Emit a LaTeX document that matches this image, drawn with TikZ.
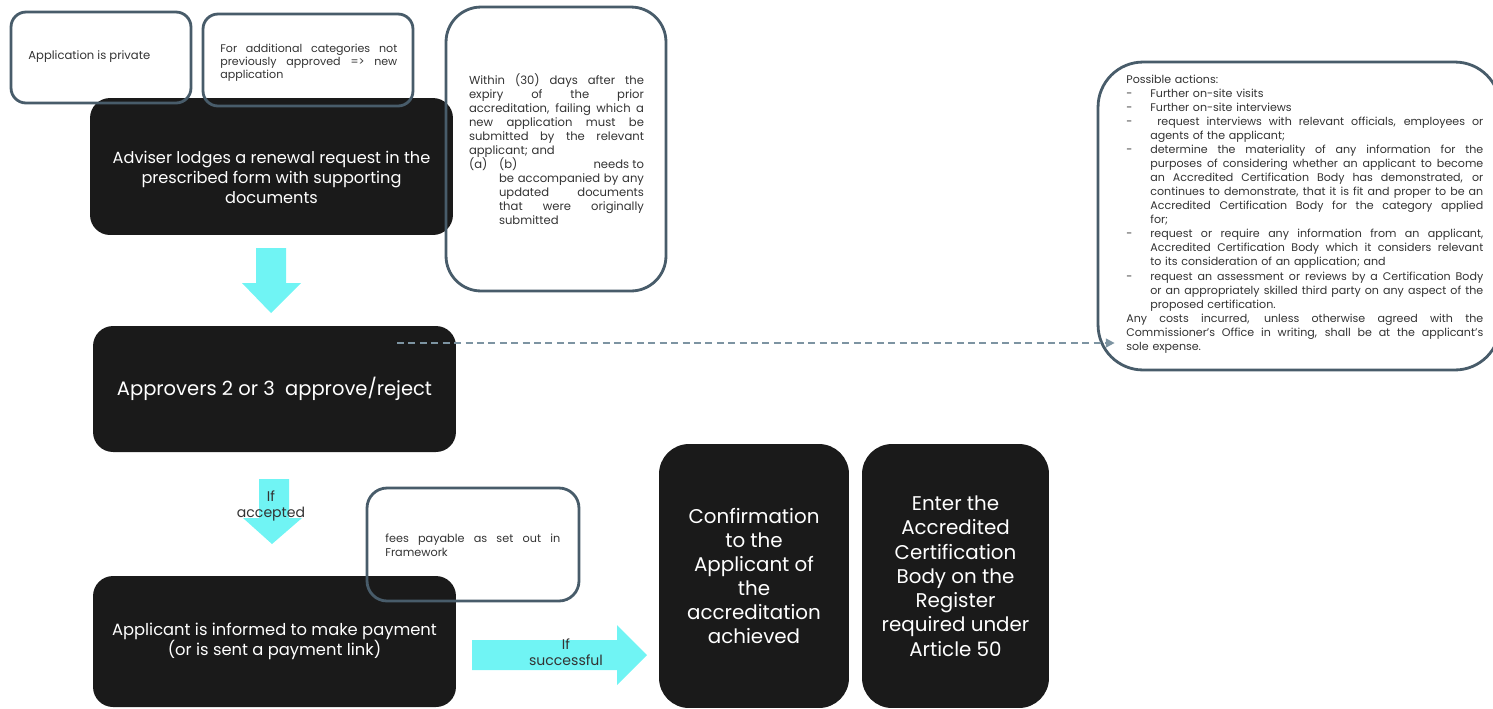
\documentclass[tikz,border=0pt]{standalone}
\definecolor{BoxBlack}{RGB}{26,26,26}
\definecolor{NoteSlate}{RGB}{72,92,106}
\definecolor{FlowCyan}{RGB}{112,244,244}
\definecolor{DashGray}{RGB}{125,148,162}
\definecolor{NoteText}{RGB}{51,51,51}
\usepackage{fontspec}
\setmainfont{Poppins}
\usepackage{tikz}
\usetikzlibrary{positioning, arrows.meta, calc}
\newcommand{\spreadbox}[2]{{\spaceskip=\fontdimen2\font plus 1fil minus 0.3\fontdimen2\font\makebox[#1][s]{#2}}}
\newcommand{\fullline}[1]{\spreadbox{\hsize}{#1}}
\newcommand{\dashitem}{\makebox[0.48cm][l]{-}}

\tikzset{
  darkbox/.style={fill=BoxBlack, rounded corners=0.4cm, inner sep=0pt},
  tallbox/.style={darkbox, rounded corners=0.6cm, minimum height=5.28cm},
  notebox/.style={draw=NoteSlate, line width=1.6pt, inner sep=0pt},
  boxtext/.style={text=white, align=center, inner sep=0pt},
  notetext/.style={text=NoteText, align=left, inner sep=0pt},
  flowarrow/.style={fill=FlowCyan},
  flowlabel/.style={text=NoteText, align=center, inner sep=0pt, font=\fontsize{8pt}{9.2pt}\selectfont},
  linkline/.style={DashGray, line width=1.1pt, dash pattern=on 4pt off 2.5pt, -{Triangle[length=5pt,width=5pt]}},
}

\begin{document}
\begin{tikzpicture}[x=0.02cm, y=-0.02cm]
\useasboundingbox (0,0) rectangle (1493,708);

\node[darkbox, minimum width=7.26cm, minimum height=2.74cm] (adviser) at (271.5,166.5) {};
\node[boxtext, font=\fontsize{9.2pt}{11.6pt}\selectfont] (advisertext) at ([yshift=-0.22cm]adviser.center) {Adviser lodges a renewal request in the\\prescribed form with supporting\\documents};

\node[darkbox, minimum width=7.26cm, minimum height=2.52cm] (approvers) at (274.5,389) {};
\node[boxtext, font=\fontsize{11.1pt}{12pt}\selectfont] (approverstext) at (approvers.center) {Approvers 2 or 3\ \ approve/reject};

\node[darkbox, minimum width=7.26cm, minimum height=2.62cm] (applicant) at (274.5,641.5) {};
\node[boxtext, font=\fontsize{9.3pt}{11.3pt}\selectfont] (applicanttext) at (applicant.center) {Applicant is informed to make payment\\(or is sent a payment link)};

\node[tallbox, minimum width=3.8cm] (confirm) at (754,576) {};
\node[boxtext, font=\fontsize{11.3pt}{13.7pt}\selectfont] (confirmtext) at (confirm.center) {Confirmation\\to the\\Applicant of\\the\\accreditation\\achieved};

\node[tallbox, minimum width=3.74cm] (register) at (955.5,576) {};
\node[boxtext, font=\fontsize{11.3pt}{13.8pt}\selectfont] (registertext) at (register.center) {Enter the\\Accredited\\Certification\\Body on the\\Register\\required under\\Article 50};

\fill[flowarrow] (256,248) -- (286,248) -- (286,283) -- (301,283) -- (271,313) -- (242,283) -- (256,283) -- cycle;
\fill[flowarrow] (259,479) -- (289,479) -- (289,518) -- (302,518) -- (272,544) -- (243,518) -- (259,518) -- cycle;
\fill[flowarrow] (472,640) -- (617,640) -- (617,625) -- (647,655) -- (617,685) -- (617,670) -- (472,670) -- cycle;
\node[flowlabel] (accepted) at (271,506) {If\\accepted};
\node[flowlabel] (successful) at (566,652) {If\\successful};

\node[notebox, rounded corners=0.3cm, minimum width=3.6cm, minimum height=1.82cm] (private) at (101,57.5) {};
\node[notetext, font=\fontsize{6.6pt}{6.6pt}\selectfont, anchor=west] (privatetext) at (28,57) {Application is private};

\node[notebox, rounded corners=0.3cm, minimum width=4.2cm, minimum height=1.84cm] (newcat) at (308,60) {};
\node[notetext, font=\fontsize{6.3pt}{6.2pt}\selectfont, text width=3.54cm, anchor=west] (newcattext) at (220,63) {\fullline{For additional categories not}\\\fullline{previously approved => new}\\application};

\node[notebox, rounded corners=0.7cm, minimum width=4.4cm, minimum height=5.68cm] (renewal) at (556,149) {};
\node[notetext, font=\fontsize{6.6pt}{8pt}\selectfont, text width=3.5cm] (renewaltext) at (556.5,149) {\fullline{Within (30) days after the}\\
\fullline{expiry of the prior}\\
\fullline{accreditation, failing which a}\\
\fullline{new application must be}\\
\fullline{submitted by the relevant}\\
applicant; and\\
\fullline{\makebox[0.6cm][l]{(a)}(b)\hfill needs to}\\
\hspace*{0.6cm}\spreadbox{2.9cm}{be accompanied by any}\\
\hspace*{0.6cm}\spreadbox{2.9cm}{updated documents}\\
\hspace*{0.6cm}\spreadbox{2.9cm}{that were originally}\\
\hspace*{0.6cm}submitted};

\node[notebox, rounded corners=0.4cm, minimum width=4.24cm, minimum height=2.26cm] (fees) at (473,544.5) {};
\node[notetext, font=\fontsize{6.4pt}{8pt}\selectfont, text width=3.5cm, anchor=west] (feestext) at (385,545) {\fullline{fees payable as set out in}\\Framework};

\node[notebox, rounded corners=0.9cm, minimum width=8.04cm, minimum height=6.16cm] (actions) at (1299,216) {};
\node[notetext, font=\fontsize{6.3pt}{8pt}\selectfont, text width=7.14cm, anchor=west] (actionstext) at (1126,214) {Possible actions:\\
\dashitem Further on-site visits\\
\dashitem Further on-site interviews\\
\dashitem\spreadbox{6.66cm}{\ request interviews with relevant officials, employees or}\\
\hspace*{0.48cm}agents of the applicant;\\
\dashitem\spreadbox{6.66cm}{determine the materiality of any information for the}\\
\hspace*{0.48cm}\spreadbox{6.66cm}{purposes of considering whether an applicant to become}\\
\hspace*{0.48cm}\spreadbox{6.66cm}{an Accredited Certification Body has demonstrated, or}\\
\hspace*{0.48cm}\spreadbox{6.66cm}{continues to demonstrate, that it is fit and proper to be an}\\
\hspace*{0.48cm}\spreadbox{6.66cm}{Accredited Certification Body for the category applied}\\
\hspace*{0.48cm}for;\\
\dashitem\spreadbox{6.66cm}{request or require any information from an applicant,}\\
\hspace*{0.48cm}\spreadbox{6.66cm}{Accredited Certification Body which it considers relevant}\\
\hspace*{0.48cm}to its consideration of an application; and\\
\dashitem\spreadbox{6.66cm}{request an assessment or reviews by a Certification Body}\\
\hspace*{0.48cm}\spreadbox{6.66cm}{or an appropriately skilled third party on any aspect of the}\\
\hspace*{0.48cm}proposed certification.\\
\fullline{Any costs incurred, unless otherwise agreed with the}\\
\fullline{Commissioner’s Office in writing, shall be at the applicant’s}\\
sole expense.};

\coordinate (linkstart) at (397,343);
\draw[linkline] (linkstart) -- ([xshift=0.36cm]linkstart -| actions.west);
\end{tikzpicture}
\end{document}
